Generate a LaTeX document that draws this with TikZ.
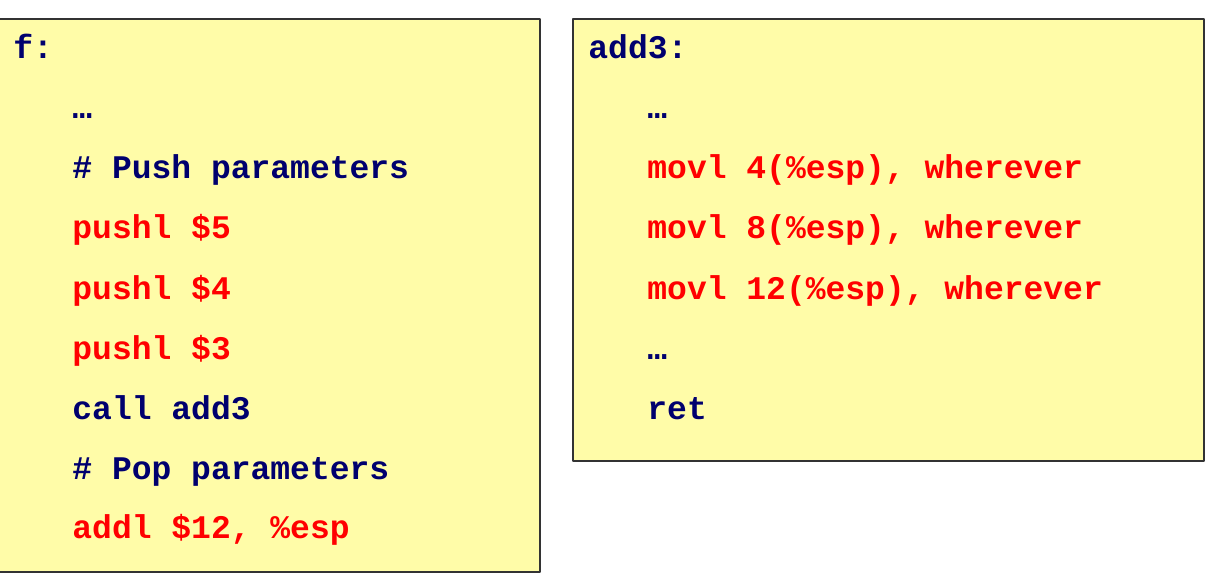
\documentclass[tikz,border=0pt]{standalone}
\usepackage{fontspec}
\setmonofont{Liberation Mono}
\definecolor{codebg}{RGB}{255,252,168}
\definecolor{codenavy}{RGB}{0,0,110}
\definecolor{codered}{RGB}{255,0,0}
\begin{document}
\begin{tikzpicture}[x=0.5bp,y=-0.5bp,line join=bevel,
  box/.style={draw=black!80,fill=codebg,line width=0.8bp},
  line/.style={anchor=base west,inner sep=0pt,font=\fontsize{16.5bp}{20bp}\ttfamily\bfseries},
  plain/.style={line,text=codenavy},
  hot/.style={line,text=codered}]
\useasboundingbox (0,0) rectangle (1212,580);
%%
\draw [box] (-2,19) rectangle (540,572);
\draw [box] (573,19) rectangle (1204,461);
%
\node (f_0) at (13,59) [plain] {f:};
  \node (f_1) at (72,119) [plain] {…};
  \node (f_2) at (72,179) [plain] {\# Push parameters};
  \node (f_3) at (72,239) [hot] {pushl \$5};
  \node (f_4) at (72,299) [hot] {pushl \$4};
  \node (f_5) at (72,359) [hot] {pushl \$3};
  \node (f_6) at (72,419) [plain] {call add3};
  \node (f_7) at (72,479) [plain] {\# Pop parameters};
  \node (f_8) at (72,538) [hot] {addl \$12, \%esp};
%
\node (add3_0) at (588,59) [plain] {add3:};
  \node (add3_1) at (647,119) [plain] {…};
  \node (add3_2) at (647,179) [hot] {movl 4(\%esp), wherever};
  \node (add3_3) at (647,239) [hot] {movl 8(\%esp), wherever};
  \node (add3_4) at (647,299) [hot] {movl 12(\%esp), wherever};
  \node (add3_5) at (647,359) [plain] {…};
  \node (add3_6) at (647,419) [plain] {ret};
%
\end{tikzpicture}
\end{document}
